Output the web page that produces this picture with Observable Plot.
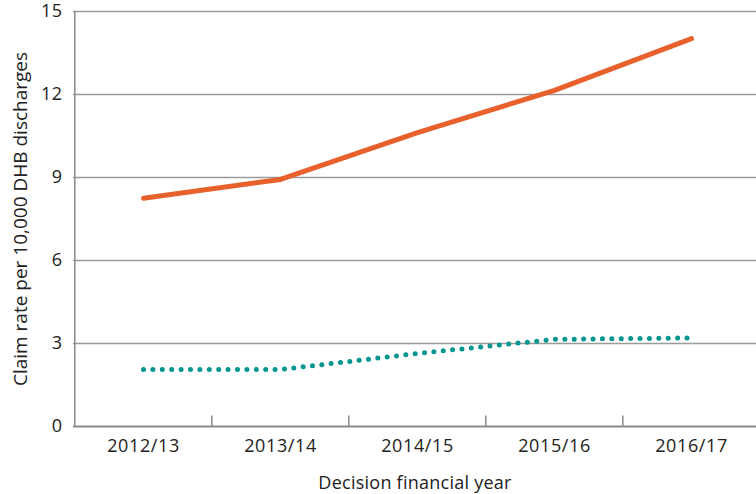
<!DOCTYPE html>
<html>
<head>
<meta charset="utf-8">
<script src="https://cdn.jsdelivr.net/npm/d3@7"></script>
<script src="https://cdn.jsdelivr.net/npm/@observablehq/plot@0.6"></script>
<style>
  html, body { margin: 0; padding: 0; background: #fff; }
  svg { font-family: "Open Sans", "Noto Sans", sans-serif; }
  g[aria-label="x-axis tick label"] text { letter-spacing: 0.6px; }
  g[aria-label="y-axis tick label"] text { letter-spacing: 0.4px; }
  g[aria-label="x-axis label"] text { letter-spacing: 0.25px; }
</style>
</head>
<body>
<div id="chart"></div>
<script>
const years = ["2012/13", "2013/14", "2014/15", "2015/16", "2016/17"];
const orangeSeries = [8.25, 8.93, 10.62, 12.15, 14.02];
const tealSeries = [2.06, 2.06, 2.64, 3.15, 3.2];
const yTicks = [0, 3, 6, 9, 12, 15];

const orangeData = years.map((y, i) => ({year: y, value: orangeSeries[i]}));
const tealData = years.map((y, i) => ({year: y, value: tealSeries[i]}));

const left = 73, right = 760;
const step = (right - left) / years.length;

const chart = Plot.plot({
  width: 756,
  height: 494,
  marginTop: 11,
  marginBottom: 68,
  marginLeft: left,
  marginRight: 0,
  style: {fontSize: "18px", color: "#222", background: "#fff"},
  x: {type: "point", domain: years, padding: 0.5, range: [left, right]},
  y: {domain: [0, 15], ticks: yTicks},
  marks: [
    Plot.ruleY(yTicks.slice(1), {stroke: "#9a9a9a", strokeWidth: 1.5, strokeOpacity: 1}),
    Plot.ruleY([0], {stroke: "#8a8a8a", strokeWidth: 2}),
    Plot.ruleX([years[0]], {dx: -step / 2, stroke: "#8a8a8a", strokeWidth: 1.5}),
    Plot.ruleX(years.slice(1), {dx: -step / 2, y1: 0, y2: 0.38, stroke: "#8a8a8a", strokeWidth: 1.5}),
    Plot.axisY({ticks: yTicks, tickSize: 0, tickPadding: 11, fontSize: 18, label: null}),
    Plot.axisY({ticks: [], tickSize: 0, fontSize: 19,
      label: "Claim rate per 10,000 DHB discharges", labelAnchor: "center", labelArrow: "none", labelOffset: 60}),
    Plot.axisX({tickSize: 0, tickPadding: 13, fontSize: 18, label: null}),
    Plot.axisX({ticks: [], tickSize: 0, fontSize: 18,
      label: "Decision financial year", labelAnchor: "center", labelArrow: "none", labelOffset: 62}),
    Plot.line(orangeData, {x: "year", y: "value", stroke: "#E8602C", strokeWidth: 5, strokeLinecap: "round", strokeLinejoin: "round"}),
    Plot.line(tealData, {x: "year", y: "value", stroke: "#00958F", strokeWidth: 5, strokeLinecap: "round", strokeDasharray: "0 9.4"})
  ]
});
document.getElementById("chart").appendChild(chart);
</script>
</body>
</html>
